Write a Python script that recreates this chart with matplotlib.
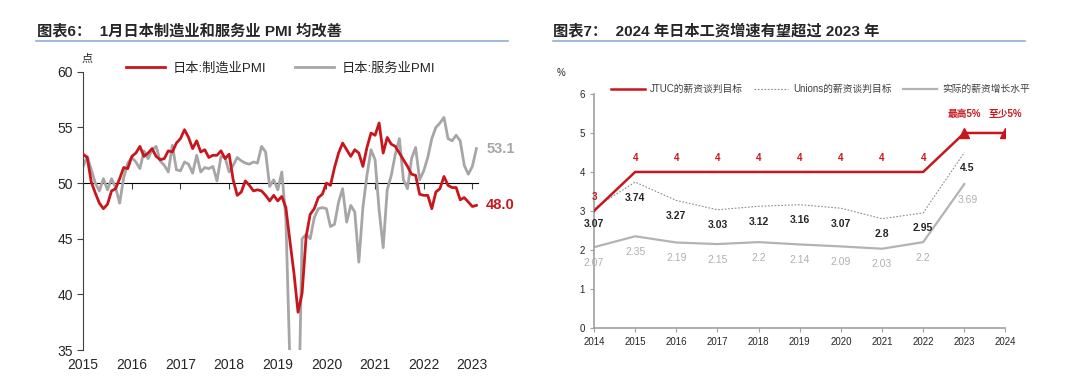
import numpy as np
import matplotlib.pyplot as plt
from matplotlib.lines import Line2D

plt.rcParams['font.family'] = ['Liberation Sans', 'Noto Sans CJK SC', 'DejaVu Sans']
plt.rcParams['axes.unicode_minus'] = False

# ---- left chart data: monthly PMI (Dec 2015 .. Jan 2024)
mfg_pmi = [52.6,
           52.3, 50.1, 49.1, 48.2, 47.7, 48.1, 49.3, 49.5, 50.4, 51.4, 51.3, 52.4,
           52.7, 53.3, 52.4, 52.7, 53.1, 52.4, 52.1, 52.2, 52.9, 52.8, 53.6, 54.0,
           54.8, 54.1, 53.1, 53.8, 52.8, 53.0, 52.3, 52.5, 52.5, 52.9, 52.2, 52.6,
           50.3, 48.9, 49.2, 50.2, 49.8, 49.3, 49.4, 49.3, 48.9, 48.4, 48.9, 48.4,
           48.8, 47.8, 44.8, 41.9, 38.4, 40.1, 45.2, 47.2, 47.7, 48.7, 49.0, 50.0,
           49.8, 51.4, 52.7, 53.6, 53.0, 52.4, 53.0, 52.7, 51.5, 53.2, 54.5, 54.3,
           55.4, 52.7, 54.1, 53.5, 53.3, 52.7, 52.1, 51.5, 50.8, 50.7, 49.0, 48.9,
           48.9, 47.7, 49.2, 49.5, 50.6, 49.8, 49.6, 49.6, 48.5, 48.7, 48.3, 47.9,
           48.0]
svc_pmi = [51.5,
           52.4, 51.2, 50.0, 49.3, 50.4, 49.4, 50.4, 49.6, 48.2, 50.5, 51.8, 52.3,
           51.9, 51.3, 52.9, 52.2, 53.0, 53.3, 52.0, 51.6, 51.0, 53.4, 51.2, 51.1,
           51.9, 51.7, 50.9, 52.5, 51.0, 51.4, 51.3, 51.5, 50.2, 52.4, 52.3, 51.0,
           51.6, 52.3, 52.0, 51.8, 51.7, 51.9, 51.8, 53.3, 52.8, 49.7, 50.3, 49.4,
           51.0, 46.8, 33.8, 21.5, 26.5, 45.0, 45.4, 45.0, 46.9, 47.7, 47.8, 47.7,
           46.1, 46.3, 48.3, 49.5, 46.5, 48.0, 47.4, 42.9, 47.8, 50.7, 53.0, 52.1,
           47.6, 44.2, 49.4, 50.7, 52.6, 54.0, 50.3, 49.5, 52.2, 53.2, 50.3, 51.1,
           52.3, 54.0, 55.0, 55.4, 55.9, 54.0, 53.8, 54.3, 53.8, 51.6, 50.8, 51.5,
           53.1]
year_labels = ['2015', '2016', '2017', '2018', '2019', '2020', '2021', '2022', '2023']

# ---- right chart data
wage_years = [2014, 2015, 2016, 2017, 2018, 2019, 2020, 2021, 2022, 2023]
jtuc_years = [2014, 2015, 2016, 2017, 2018, 2019, 2020, 2021, 2022, 2023, 2024]
jtuc_target = [3, 4, 4, 4, 4, 4, 4, 4, 4, 5, 5]
unions_target = [3.07, 3.74, 3.27, 3.03, 3.12, 3.16, 3.07, 2.8, 2.95, 4.5]
actual_wage = [2.07, 2.35, 2.19, 2.15, 2.2, 2.14, 2.09, 2.03, 2.2, 3.69]
jtuc_notes = ['最高5%', '至少5%']

RED = '#c8161d'
GRAY = '#a6a6a6'
TXT = '#262626'

fig = plt.figure(figsize=(10.8, 3.76), dpi=100)

# titles and underlines
fig.text(0.034, 0.918, '图表6：  1月日本制造业和服务业 PMI 均改善', fontsize=11,
         fontweight='bold', color=TXT, va='center')
fig.text(0.512, 0.918, '图表7：  2024 年日本工资增速有望超过 2023 年', fontsize=11,
         fontweight='bold', color=TXT, va='center')
fig.add_artist(Line2D([0.033, 0.47], [0.89, 0.89], color='#8eaed6', lw=1.2))
fig.add_artist(Line2D([0.512, 0.949], [0.892, 0.892], color='#8eaed6', lw=1.2))

# ---------------- left chart
ax = fig.add_axes([0.077, 0.069, 0.366, 0.74])
x = np.arange(len(mfg_pmi))
ax.plot(x, svc_pmi, color=GRAY, lw=2, label='日本:服务业PMI', zorder=2)
ax.plot(x, mfg_pmi, color=RED, lw=2, label='日本:制造业PMI', zorder=3)
ax.set_xlim(0, 97.5)
ax.set_ylim(35, 60)
ax.set_yticks([35, 40, 45, 50, 55, 60])
ax.set_xticks(np.arange(0, 97, 12))
ax.set_xticklabels(year_labels)
for s in ['top', 'right', 'bottom']:
    ax.spines[s].set_visible(False)
ax.spines['left'].set_color('#404040')
ax.tick_params(axis='y', direction='out', length=4, color='#404040', labelsize=10, labelcolor=TXT)
ax.tick_params(axis='x', length=0, labelsize=10, labelcolor=TXT, pad=6)

sec = ax.secondary_xaxis((50 - 35) / (60 - 35))
sec.set_xticks(np.arange(0, 97, 12))
sec.set_xticklabels([])
sec.spines['bottom'].set_color('#404040')
sec.tick_params(direction='in', length=4, color='#404040')

ax.text(-0.5, 61.2, '点', fontsize=8, color=TXT, ha='left', va='center')
ax.annotate(f'{svc_pmi[-1]:.1f}', (x[-1], svc_pmi[-1]), xytext=(7, 0), textcoords='offset points',
            color=GRAY, fontsize=10.5, fontweight='bold', va='center', annotation_clip=False)
ax.annotate(f'{mfg_pmi[-1]:.1f}', (x[-1], mfg_pmi[-1]), xytext=(7, 0), textcoords='offset points',
            color=RED, fontsize=10.5, fontweight='bold', va='center', annotation_clip=False)
h, l = ax.get_legend_handles_labels()
ax.legend(h[::-1], l[::-1], ncol=2, loc='center', bbox_to_anchor=(0.5, 1.012), frameon=False,
          fontsize=9.5, handlelength=2.9, columnspacing=2.2, handletextpad=0.6,
          labelcolor=TXT)

# ---------------- right chart
ax2 = fig.add_axes([0.55, 0.128, 0.381, 0.622])
ax2.plot(jtuc_years, jtuc_target, color=RED, lw=1.8, label='JTUC的薪资谈判目标', zorder=3)
ax2.plot(jtuc_years[-2:], jtuc_target[-2:], ls='none', marker='^', ms=7, color=RED, zorder=4)
ax2.plot(wage_years, unions_target, color='#8c8c8c', lw=0.8, ls=(0, (1.5, 1.5)),
         label='Unions的薪资谈判目标')
ax2.plot(wage_years, actual_wage, color='#b3b3b3', lw=1.6, label='实际的薪资增长水平')
ax2.set_xlim(2014, 2024)
ax2.set_ylim(0, 6)
ax2.set_xticks(jtuc_years)
ax2.set_yticks(range(7))
for s in ['top', 'right']:
    ax2.spines[s].set_visible(False)
for s in ['left', 'bottom']:
    ax2.spines[s].set_color('#a0a0a0')
    ax2.spines[s].set_linewidth(1.2)
ax2.tick_params(direction='out', length=3, color='#a0a0a0', labelsize=7, labelcolor=TXT)

for yr, v in zip(jtuc_years[:9], jtuc_target[:9]):
    ax2.text(yr, v + 0.36, f'{v}', color=RED, fontsize=7, fontweight='bold', ha='center', va='center')
for yr, v, t in zip(jtuc_years[-2:], jtuc_target[-2:], jtuc_notes):
    ax2.text(yr, v + 0.48, t, color=RED, fontsize=7, fontweight='bold', ha='center', va='center')
for yr, v in zip(wage_years, unions_target):
    dx = 0.08 if yr == 2023 else 0
    ax2.text(yr + dx, v - 0.4, f'{v:g}', color=TXT, fontsize=7.5, fontweight='bold',
             ha='center', va='center')
for yr, v in zip(wage_years, actual_wage):
    dx = 0.08 if yr == 2023 else 0
    ax2.text(yr + dx, v - 0.4, f'{v:g}', color='#b0b0b0', fontsize=7.5,
             ha='center', va='center')
ax2.text(2013.2, 6.55, '%', fontsize=7, color=TXT, ha='center', va='center')
ax2.legend(ncol=3, loc='center', bbox_to_anchor=(0.55, 1.02), frameon=False, fontsize=7,
           handlelength=3.5, columnspacing=1.2, handletextpad=0.5, labelcolor='#404040')

fig.savefig('out.png', dpi=100)
